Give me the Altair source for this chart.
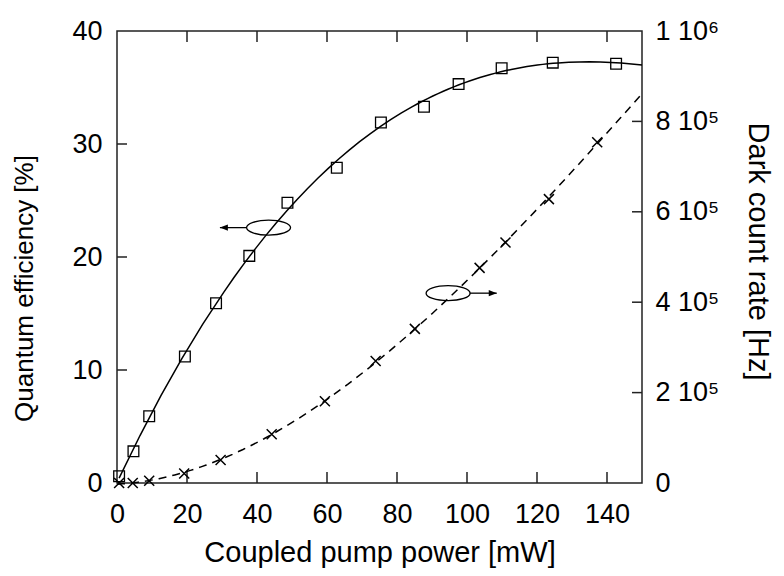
import altair as alt
import pandas as pd

# ---- data ----
power_qe = [0.6, 4.7, 9.2, 19.4, 28.3, 37.8, 48.7, 62.8, 75.4, 87.7, 97.6, 109.9, 124.5, 142.6]
qe = [0.6, 2.8, 5.9, 11.2, 15.9, 20.1, 24.8, 27.9, 31.9, 33.3, 35.3, 36.7, 37.2, 37.1]

power_dc = [0.6, 4.5, 9.2, 19.2, 29.6, 44.2, 59.4, 73.9, 85.1, 103.6, 111.0, 123.4, 137.2]
dark = [0, 0, 5e3, 21e3, 51e3, 108e3, 181e3, 270e3, 341e3, 476e3, 532e3, 628e3, 754e3]

x_ticks = [0, 20, 40, 60, 80, 100, 120, 140]
x_inner_ticks = [20, 40, 60, 80, 100, 120, 140]
qe_ticks = [0, 10, 20, 30, 40]
qe_inner_ticks = [10, 20, 30]
dc_ticks = [0, 2e5, 4e5, 6e5, 8e5, 1e6]
dc_tick_labels = ["0", "2 10\u2075", "4 10\u2075", "6 10\u2075", "8 10\u2075", "1 10\u2076"]
dc_inner_ticks = [2e5, 4e5, 6e5, 8e5]

# annotation rings (in data units of the left axis) and arrows
ring_x = [43.3, 94.6]
ring_y = [22.6, 16.8]
arrow_from = [36.9, 100.8]
arrow_to = [29.4, 108.5]
arrow_dir = ["left", "right"]

X_DOMAIN = [0, 150]
QE_DOMAIN = [0, 40]
DC_DOMAIN = [0, 1e6]
W, H = 525, 452
FONT = "Liberation Sans"
NARROW = "Liberation Sans Narrow, Liberation Sans"

qe_df = pd.DataFrame({"power": power_qe, "qe": qe})
dc_df = pd.DataFrame({"power": power_dc, "dark": dark})
ann_df = pd.DataFrame({"rx": ring_x, "ry": ring_y, "a0": arrow_from, "a1": arrow_to, "dir": arrow_dir})

xscale = alt.Scale(domain=X_DOMAIN, nice=False, zero=False)
qscale = alt.Scale(domain=QE_DOMAIN, nice=False)
dscale = alt.Scale(domain=DC_DOMAIN, nice=False)

common = dict(ticks=False, tickSize=0, domain=False, grid=False, labelFontSize=27,
              labelFont=FONT, labelColor="black",
              titleColor="black", titleFontWeight="normal", titleBaseline="alphabetic",
              titleAlign="center", labelFlush=False, labelOverlap=False)
x_axis = alt.Axis(values=x_ticks, title="Coupled pump power [mW]", labelPadding=18,
                  titleFont=FONT, titleFontSize=29, titleX=W / 2, titleY=78, **common)
qe_axis = alt.Axis(values=qe_ticks, title="Quantum efficiency [%]", labelPadding=15,
                   titleFont=NARROW, titleFontSize=26, titleX=-85, titleY=257,
                   titleAngle=-90, **common)
label_expr = " : ".join(
    f"datum.value == {v} ? '{t}'" for v, t in zip(dc_ticks, dc_tick_labels)
) + " : ''"
dc_axis = alt.Axis(values=dc_ticks, title="Dark count rate [Hz]", orient="right", labelPadding=13,
                   labelExpr=label_expr, titleFont=FONT, titleFontSize=29, titleX=106,
                   titleY=220, titleAngle=90, **common)


def X(field):
    return alt.X(field, type="quantitative", scale=xscale, axis=x_axis)


def YQ(field):
    return alt.Y(field, type="quantitative", scale=qscale, axis=qe_axis)


def YD(field):
    return alt.Y(field, type="quantitative", scale=dscale, axis=dc_axis)


ring_shape = "M-1,0 A1,0.34 0 1,1 1,0 A1,0.34 0 1,1 -1,0"
x_shape = "M-1,-1 L1,1 M-1,1 L1,-1"

qe_base = alt.Chart(qe_df)
qe_line = qe_base.transform_regression(
    "power", "qe", method="poly", order=3, extent=[power_qe[0], X_DOMAIN[1]]
).mark_line(color="black", strokeWidth=1.5).encode(x=X("power"), y=YQ("qe"))
qe_pts = qe_base.mark_point(shape="square", size=115, filled=False, color="black",
                            strokeWidth=1.3, opacity=1).encode(x=X("power"), y=YQ("qe"))

ann = alt.Chart(ann_df)
rings = ann.mark_point(shape=ring_shape, size=1936, filled=False, color="black",
                       strokeWidth=1.3, opacity=1).encode(x=X("rx"), y=YQ("ry"))
arrows = ann.mark_rule(color="black", strokeWidth=1.3).encode(x=X("a0"), x2="a1", y=YQ("ry"))
heads = ann.mark_point(filled=True, color="black", size=64, opacity=1).encode(
    x=X("a1"), y=YQ("ry"),
    shape=alt.Shape("dir:N", scale=alt.Scale(domain=["left", "right"],
                    range=["M0,0 L2,-0.8 L2,0.8 Z", "M0,0 L-2,-0.8 L-2,0.8 Z"]), legend=None))

xt_df = pd.DataFrame({"t": x_inner_ticks})
xt_bottom = alt.Chart(xt_df).mark_rule(color="#222", strokeWidth=1.5).encode(
    x=X("t"), y=alt.value(H), y2=alt.value(H - 11))
xt_top = alt.Chart(xt_df).mark_rule(color="#222", strokeWidth=1.5).encode(
    x=X("t"), y=alt.value(0), y2=alt.value(11))
qt = alt.Chart(pd.DataFrame({"t": qe_inner_ticks})).mark_rule(color="#222", strokeWidth=1.5).encode(
    y=YQ("t"), x=alt.value(0), x2=alt.value(10))

left = alt.layer(qe_line, qe_pts, rings, arrows, heads, xt_bottom, xt_top, qt)

dc_base = alt.Chart(dc_df)
dc_line = dc_base.transform_regression(
    "power", "dark", method="poly", order=3, extent=X_DOMAIN
).mark_line(color="black", strokeWidth=1.5, strokeDash=[8, 6]).encode(x=X("power"), y=YD("dark"))
dc_pts = dc_base.mark_point(shape=x_shape, size=100, filled=False, color="black",
                            strokeWidth=1.5, opacity=1).encode(x=X("power"), y=YD("dark"))
dt = alt.Chart(pd.DataFrame({"t": dc_inner_ticks})).mark_rule(color="#222", strokeWidth=1.5).encode(
    y=YD("t"), x=alt.value(W), x2=alt.value(W - 10))

right = alt.layer(dc_line, dc_pts, dt)

chart = alt.layer(left, right).resolve_scale(y="independent").properties(
    width=W, height=H,
    autosize=alt.AutoSizeParams(type="none"),
    padding={"left": 109, "top": 23, "right": 134, "bottom": 85},
).configure_view(stroke="#222", strokeWidth=1.5)

chart.save("out.html", embed_options={"renderer": "svg", "actions": False})
